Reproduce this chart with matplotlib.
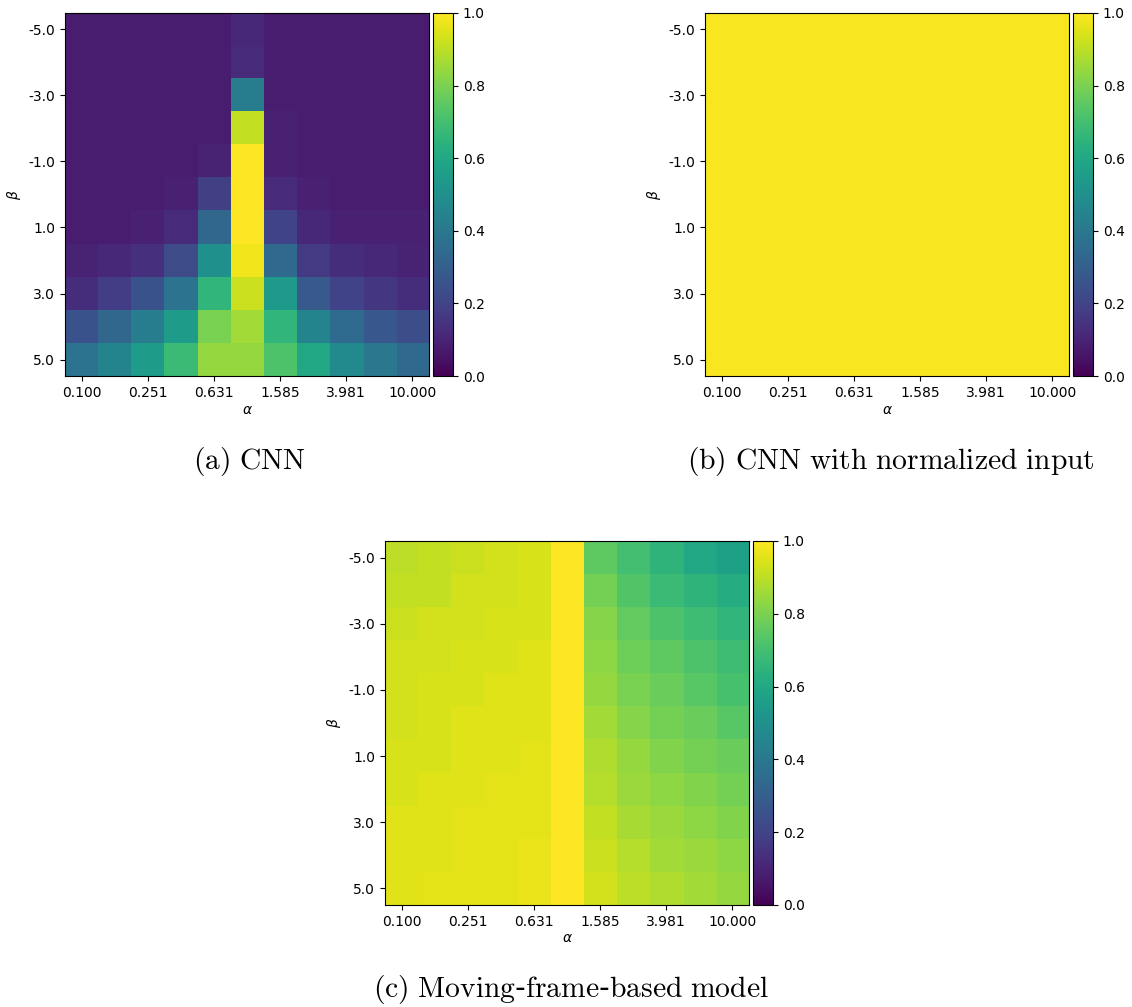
import numpy as np
import matplotlib
matplotlib.use("Agg")
import matplotlib.pyplot as plt

# --- DONNÉES ---
alphas = np.array([0.1, 0.158, 0.251, 0.398, 0.631, 1.0, 1.585, 2.512, 3.981, 6.310, 10.0])
betas = np.array([-5.0, -4.0, -3.0, -2.0, -1.0, 0.0, 1.0, 2.0, 3.0, 4.0, 5.0])
alpha_ticks = ["0.100", "0.251", "0.631", "1.585", "3.981", "10.000"]
beta_ticks = ["-5.0", "-3.0", "-1.0", "1.0", "3.0", "5.0"]

# (a) CNN
acc_cnn = np.array([
    [0.08, 0.08, 0.08, 0.08, 0.08, 0.11, 0.08, 0.08, 0.08, 0.08, 0.08],
    [0.08, 0.08, 0.08, 0.08, 0.08, 0.12, 0.08, 0.08, 0.08, 0.08, 0.08],
    [0.08, 0.08, 0.08, 0.08, 0.08, 0.42, 0.08, 0.08, 0.08, 0.08, 0.08],
    [0.08, 0.08, 0.08, 0.08, 0.08, 0.91, 0.09, 0.08, 0.08, 0.08, 0.08],
    [0.08, 0.08, 0.08, 0.08, 0.10, 1.00, 0.09, 0.08, 0.08, 0.08, 0.08],
    [0.08, 0.08, 0.08, 0.09, 0.19, 1.00, 0.12, 0.09, 0.08, 0.08, 0.08],
    [0.08, 0.08, 0.09, 0.12, 0.33, 1.00, 0.20, 0.11, 0.09, 0.09, 0.09],
    [0.10, 0.11, 0.14, 0.23, 0.50, 0.98, 0.34, 0.17, 0.13, 0.11, 0.10],
    [0.13, 0.18, 0.25, 0.38, 0.66, 0.92, 0.54, 0.28, 0.20, 0.16, 0.13],
    [0.25, 0.33, 0.42, 0.55, 0.80, 0.86, 0.66, 0.45, 0.35, 0.27, 0.24],
    [0.38, 0.45, 0.55, 0.68, 0.84, 0.84, 0.72, 0.60, 0.48, 0.40, 0.34],
])

# (b) CNN avec entrée normalisée
acc_cnn_norm = np.full((11, 11), 0.99)

# (c) modèle à repère mobile
acc_mf = np.array([
    [0.90, 0.91, 0.92, 0.93, 0.94, 1.00, 0.75, 0.70, 0.65, 0.60, 0.57],
    [0.91, 0.91, 0.93, 0.93, 0.94, 1.00, 0.79, 0.73, 0.68, 0.65, 0.62],
    [0.92, 0.93, 0.93, 0.94, 0.94, 1.00, 0.82, 0.76, 0.72, 0.69, 0.66],
    [0.93, 0.93, 0.94, 0.94, 0.95, 1.00, 0.83, 0.78, 0.75, 0.72, 0.69],
    [0.93, 0.94, 0.94, 0.95, 0.95, 1.00, 0.84, 0.80, 0.77, 0.74, 0.71],
    [0.93, 0.94, 0.95, 0.95, 0.95, 1.00, 0.86, 0.82, 0.79, 0.77, 0.74],
    [0.94, 0.94, 0.95, 0.95, 0.96, 1.00, 0.88, 0.84, 0.81, 0.79, 0.77],
    [0.94, 0.95, 0.95, 0.96, 0.96, 1.00, 0.89, 0.85, 0.83, 0.81, 0.79],
    [0.95, 0.95, 0.96, 0.96, 0.96, 1.00, 0.91, 0.87, 0.85, 0.83, 0.81],
    [0.95, 0.95, 0.96, 0.96, 0.97, 1.00, 0.92, 0.89, 0.86, 0.85, 0.83],
    [0.95, 0.96, 0.96, 0.96, 0.97, 1.00, 0.93, 0.90, 0.88, 0.86, 0.84],
])

captions = [r"$\mathrm{(a)\ CNN}$",
            r"$\mathrm{(b)\ CNN\ with\ normalized\ input}$",
            r"$\mathrm{(c)\ Moving}$-$\mathrm{frame}$-$\mathrm{based\ model}$"]

W, H = 1132, 1007
fig = plt.figure(figsize=(W / 100, H / 100), dpi=100)


def px(x0, y0, x1, y1):
    # conversion pixels -> fraction de figure
    return [x0 / W, 1 - y1 / H, (x1 - x0) / W, (y1 - y0) / H]


def heatmap(data, ax_box, cb_box):
    ax = fig.add_axes(px(*ax_box))
    cax = fig.add_axes(px(*cb_box))
    im = ax.imshow(data, cmap='viridis', vmin=0, vmax=1, aspect='auto',
                   interpolation='nearest')
    ax.set_xticks(range(0, len(alphas), 2))
    ax.set_xticklabels(alpha_ticks)
    ax.set_yticks(range(0, len(betas), 2))
    ax.set_yticklabels(beta_ticks)
    ax.set_xlabel(r"$\alpha$", fontsize=10, labelpad=2)
    ax.set_ylabel(r"$\beta$", fontsize=10)
    ax.tick_params(labelsize=10)
    cb = fig.colorbar(im, cax=cax)
    cb.set_ticks([0, 0.2, 0.4, 0.6, 0.8, 1.0])
    cb.ax.tick_params(labelsize=10)
    return ax


plt.rcParams['mathtext.fontset'] = 'dejavusans'
heatmap(acc_cnn, (65, 13, 429, 376), (433, 13, 453, 376))
heatmap(acc_cnn_norm, (705, 13, 1069, 376), (1073, 13, 1093, 376))
heatmap(acc_mf, (385, 541, 749, 905), (753, 541, 773, 905))

# légendes des sous-figures en Computer Modern
plt.rcParams['mathtext.fontset'] = 'cm'
fig.text(250 / W, 1 - 462 / H, captions[0], fontsize=21.3, ha='center', va='center')
fig.text(891 / W, 1 - 462 / H, captions[1], fontsize=21.3, ha='center', va='center')
fig.text(571 / W, 1 - 989 / H, captions[2], fontsize=21.3, ha='center', va='center')

fig.savefig("out.png", dpi=100)
